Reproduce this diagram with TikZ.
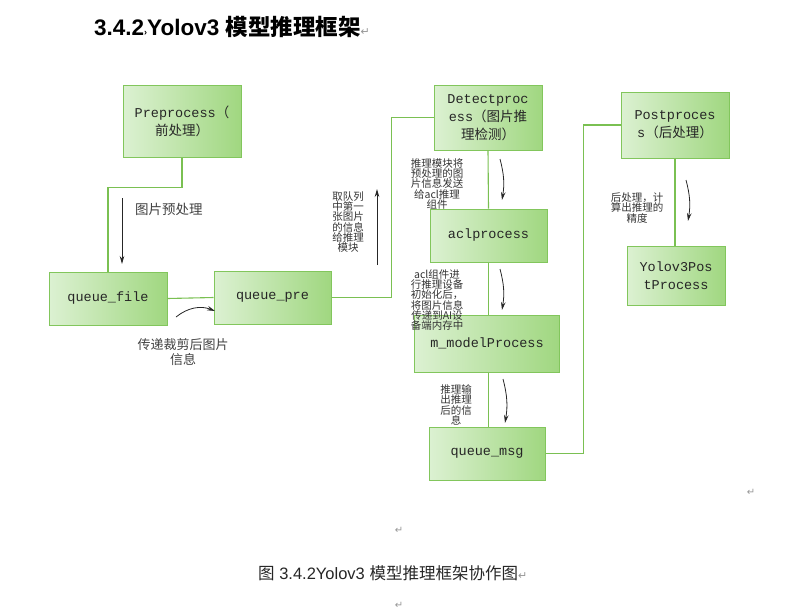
\documentclass[tikz,border=0pt]{standalone}
\usepackage{fontspec}
\setmainfont{Liberation Sans}
\newfontfamily\cjk{Noto Sans CJK SC}
\newfontfamily\mono{Liberation Mono}
\newfontfamily\sym{DejaVu Sans}
\usetikzlibrary{arrows.meta}

\definecolor{boxline}{RGB}{130,198,92}
\definecolor{boxlight}{RGB}{220,241,210}
\definecolor{boxdark}{RGB}{160,215,128}
\definecolor{wire}{RGB}{122,192,82}
\definecolor{markgray}{RGB}{150,150,150}

\tikzset{
    green-box/.style = {draw=boxline, line width=1pt, left color=boxlight, right color=boxdark, rectangle, align=center, inner sep=2pt, text=black!85, font=\mono\fontsize{13.5}{18}\selectfont},
    wire-line/.style = {draw=wire, line width=1.1pt},
    note-arrow/.style = {draw=black!85, line width=0.8pt, -{Stealth[length=8pt,width=4.5pt]}},
    note-text/.style = {font=\cjk\fontsize{10.5}{10.3}\selectfont, align=center, inner sep=0pt, text=black!80},
    big-note/.style = {font=\cjk\fontsize{13}{15}\selectfont, align=center, inner sep=0pt, text=black!75},
    para-mark/.style = {font=\sym\fontsize{10}{10}\selectfont, text=markgray, inner sep=0pt},
}
\newcommand{\retmark}{{\sym\mdseries\color{markgray}\fontsize{11}{11}\selectfont ↵}}

\begin{document}
\begin{tikzpicture}[x=1pt, y=-1pt]
\useasboundingbox (0,0) rectangle (800,611);

% heading and caption
\node[anchor=west, inner sep=0pt, font=\bfseries\fontsize{22.5}{22.5}\selectfont] (title) at (94,27) {3.4.2{\fontsize{9}{9}\selectfont ›}Yolov3 {\cjk 模型推理框架}\retmark};
\node[anchor=west, inner sep=0pt, font=\fontsize{16.5}{16.5}\selectfont, text=black!85] (caption) at (258,573) {{\cjk 图} 3.4.2Yolov3 {\cjk 模型推理框架协作图}\retmark};

% boxes
\node[green-box, minimum width=118pt, minimum height=72pt] (pre) at (182,121) {Preprocess{\cjk （}\\{\cjk 前处理）}};
\node[green-box, minimum width=118pt, minimum height=53pt] (qfile) at (108,298.5) {queue\_file};
\node[green-box, minimum width=117pt, minimum height=53pt] (qpre) at (272.5,297.5) {queue\_pre};
\node[green-box, minimum width=108pt, minimum height=65pt] (det) at (488,117.5) {Detectproc\\ess{\cjk （图片推}\\{\cjk 理检测）}};
\node[green-box, minimum width=117pt, minimum height=53pt] (acl) at (488.5,235.5) {aclprocess};
\node[green-box, minimum width=145pt, minimum height=57pt] (model) at (487,343.5) {m\_modelProcess};
\node[green-box, minimum width=116pt, minimum height=53pt] (qmsg) at (487,453.5) {queue\_msg};
\node[green-box, minimum width=108pt, minimum height=66pt] (post) at (675,125) {Postproces\\s{\cjk （后处理）}};
\node[green-box, minimum width=98pt, minimum height=59pt] (ypost) at (676,275.5) {Yolov3Pos\\tProcess};

% green links
\draw[wire-line] (pre.south) -- ++(0,30) -| (qfile.north);
\draw[wire-line] (qfile.east) -- (qpre.west);
\draw[wire-line] (qpre.east) -- ++(60,0) |- (det.west);
\draw[wire-line] (det.south) -- (acl.north);
\draw[wire-line] (acl.south) -- (model.north -| acl.south);
\draw[wire-line] (model.south -| acl.south) -- (qmsg.north -| acl.south);
\draw[wire-line] (qmsg.east) -- ++(38,0) |- (post.west);
\draw[wire-line] (post.south) -- (post.south |- ypost.north);

% notes
\coordinate (a1s) at (122,198);  \coordinate (a1e) at (122,264);
\coordinate (a2s) at (176,317);  \coordinate (a2e) at (215,311);
\coordinate (a3s) at (377,265);  \coordinate (a3e) at (377,189);
\coordinate (a4s) at (500,159);  \coordinate (a4e) at (502,200);
\coordinate (a5s) at (500,269);  \coordinate (a5e) at (502,310);
\coordinate (a6s) at (503,379);  \coordinate (a6e) at (505,423);
\coordinate (a7s) at (686,180);  \coordinate (a7e) at (688,221);
\draw[note-arrow] (a1s) -- (a1e);
\draw[note-arrow] (a2s) to[bend left=30] (a2e);
\draw[note-arrow] (a3s) -- (a3e);
\draw[note-arrow] (a4s) to[bend left=12] (a4e);
\draw[note-arrow] (a5s) to[bend left=12] (a5e);
\draw[note-arrow] (a6s) to[bend left=12] (a6e);
\draw[note-arrow] (a7s) to[bend left=12] (a7e);

\node[big-note, anchor=west, font=\cjk\fontsize{13.5}{15}\selectfont] (n1) at (135,209) {图片预处理};
\node[big-note] (n2) at (183,352) {传递裁剪后图片\\信息};
\node[note-text] (n3) at (348,222) {取队列\\中第一\\张图片\\的信息\\给推理\\模块};
\node[note-text] (n4) at (437,184) {推理模块将\\预处理的图\\片信息发送\\给acl推理\\组件};
\node[note-text] (n5) at (437,300) {acl组件进\\行推理设备\\初始化后，\\将图片信息\\传递到AI设\\备端内存中};
\node[note-text] (n6) at (456,405) {推理输\\出推理\\后的信\\息};
\node[note-text] (n7) at (637,208) {后处理，计\\算出推理的\\精度};

% paragraph marks
\node[para-mark] (m1) at (751,492) {↵};
\node[para-mark] (m2) at (399,530) {↵};
\node[para-mark] (m3) at (399,605) {↵};
\end{tikzpicture}
\end{document}
